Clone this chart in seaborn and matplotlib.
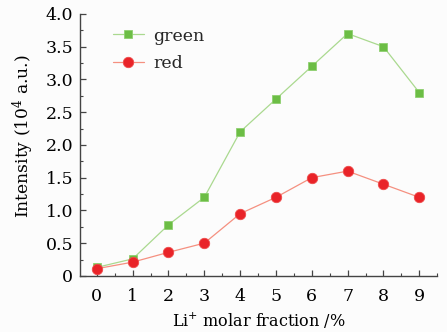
import numpy as np
import pandas as pd
import matplotlib
matplotlib.use("Agg")
import matplotlib.pyplot as plt
from matplotlib.ticker import MultipleLocator, FixedLocator
import seaborn as sns

# Data
li_fraction = [0, 1, 2, 3, 4, 5, 6, 7, 8, 9]
green_intensity = [0.13, 0.26, 0.78, 1.20, 2.20, 2.70, 3.20, 3.70, 3.50, 2.80]
red_intensity = [0.11, 0.21, 0.36, 0.50, 0.95, 1.20, 1.50, 1.60, 1.40, 1.20]
y_ticks = [0, 0.5, 1.0, 1.5, 2.0, 2.5, 3.0, 3.5, 4.0]
y_tick_labels = ["0", "0.5", "1.0", "1.5", "2.0", "2.5", "3.0", "3.5", "4.0"]

sns.set_theme(style="ticks")
plt.rcParams["font.family"] = ["DejaVu Serif"]
plt.rcParams["mathtext.fontset"] = "dejavuserif"

bg = "#fcfcfc"
fig = plt.figure(figsize=(4.47, 3.32), dpi=100, facecolor=bg)
ax = fig.add_axes([0.179, 0.169, 0.799, 0.789])
ax.set_facecolor(bg)

df = pd.DataFrame({"x": li_fraction, "green": green_intensity, "red": red_intensity})

sns.lineplot(data=df, x="x", y="green", ax=ax, color="#aad98f", lw=0.9,
             marker="s", markersize=6.2, markerfacecolor="#6cbd45",
             markeredgecolor="#8fd070", markeredgewidth=0.6, label="green")
sns.lineplot(data=df, x="x", y="red", ax=ax, color="#f59080", lw=0.9,
             marker="o", markersize=7.5, markerfacecolor="#e92328",
             markeredgecolor="#ee4a4a", markeredgewidth=0.6, label="red")

ax.set_xlim(-0.47, 9.5)
ax.set_ylim(0, 4.0)
ax.xaxis.set_major_locator(FixedLocator(li_fraction))
ax.xaxis.set_minor_locator(MultipleLocator(0.5))
ax.set_yticks(y_ticks)
ax.set_yticklabels(y_tick_labels)
ax.yaxis.set_minor_locator(MultipleLocator(0.25))

for s in ["top", "right"]:
    ax.spines[s].set_visible(False)
for s in ["left", "bottom"]:
    ax.spines[s].set_color("#444444")
    ax.spines[s].set_linewidth(1.0)

ax.tick_params(axis="both", which="major", direction="in", length=4,
               width=0.9, color="#444444", labelsize=12.5, labelcolor="black")
ax.tick_params(axis="y", which="major", pad=5)
ax.tick_params(axis="x", which="major", pad=9)
ax.tick_params(axis="both", which="minor", direction="in", length=2.5,
               width=0.8, color="#444444")

ax.set_xlabel(r"Li$^{+}$ molar fraction /%", fontsize=11.5, color="black", labelpad=3)
ax.set_ylabel(r"Intensity (10$^{4}$ a.u.)", fontsize=12.3, color="black")
ax.yaxis.set_label_coords(-0.123, 0.534)

leg = ax.legend(loc="upper left", bbox_to_anchor=(0.064, 0.988), frameon=False,
                fontsize=12.5, handlelength=1.75, handletextpad=0.55,
                labelspacing=0.6, borderaxespad=0.2)

fig.savefig("out.png", dpi=100, facecolor=bg)
